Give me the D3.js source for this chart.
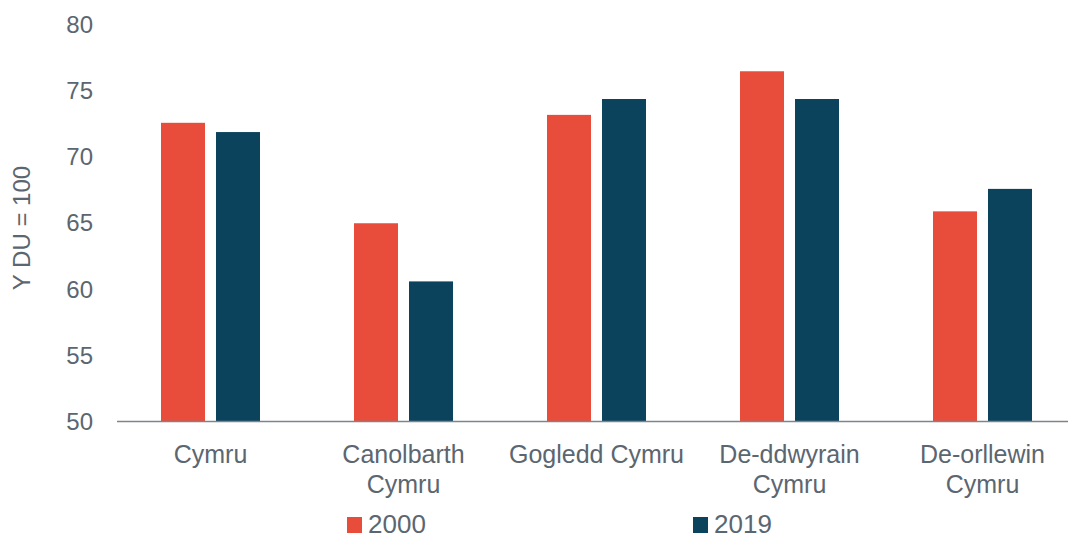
<!DOCTYPE html>
<html lang="cy">
<head>
    <meta charset="UTF-8">
    <title>Y DU = 100</title>
    <script src="https://d3js.org/d3.v7.min.js"></script>
    <style>
        body { margin: 0; background: #fff; }
        svg { display: block; font-family: "Liberation Sans", Arial, sans-serif; }
        .tick-label { fill: #5b6670; font-size: 24px; }
        .cat-label { fill: #5b6670; font-size: 25px; }
        .legend-label { fill: #5b6670; font-size: 26px; }
    </style>
</head>
<body>
    <svg width="1068" height="539"></svg>
    <script>
// data
const categories = [
    ['Cymru'],
    ['Canolbarth', 'Cymru'],
    ['Gogledd Cymru'],
    ['De-ddwyrain', 'Cymru'],
    ['De-orllewin', 'Cymru']
];
const seriesNames = ['2000', '2019'];
const values2000 = [72.6, 65.0, 73.2, 76.5, 65.9];
const values2019 = [71.9, 60.6, 74.4, 74.4, 67.6];
const yTicks = [50, 55, 60, 65, 70, 75, 80];
const yTitle = 'Y DU = 100';
const colors = ['#e84c3b', '#0b435d'];

const seriesValues = [values2000, values2019];
const catKeys = categories.map(c => c.join(' '));

const svg = d3.select('svg');

// plot area (runs past the right edge, like the original)
const x = d3.scaleBand()
    .domain(catKeys)
    .range([114, 1079])
    .padding(0);

const groupWidth = 99;
const x1 = d3.scaleBand()
    .domain(seriesNames)
    .range([x.bandwidth() / 2 - groupWidth / 2, x.bandwidth() / 2 + groupWidth / 2])
    .paddingInner(0.2);

const y = d3.scaleLinear()
    .domain([50, 80])
    .range([421.5, 25]);

// y tick labels
const yAxis = svg.append('g')
    .attr('class', 'y-axis')
    .attr('transform', 'translate(93,0)')
    .call(d3.axisLeft(y).tickValues(yTicks).tickSize(0).tickPadding(0));
yAxis.select('.domain').remove();
yAxis.selectAll('text')
    .attr('class', 'tick-label')
    .attr('font-size', null)
    .attr('font-family', null)
    .attr('fill', null);

// y title
svg.append('text')
    .attr('class', 'tick-label')
    .attr('transform', 'translate(30,228) rotate(-90)')
    .attr('text-anchor', 'middle')
    .text(yTitle);

// bars
const groups = svg.append('g')
    .selectAll('g')
    .data(catKeys)
    .join('g')
    .attr('transform', d => `translate(${x(d)},0)`);

groups.selectAll('rect')
    .data((d, i) => seriesNames.map((s, j) => ({ s, v: seriesValues[j][i], j })))
    .join('rect')
    .attr('x', d => x1(d.s))
    .attr('y', d => y(d.v))
    .attr('width', x1.bandwidth())
    .attr('height', d => y(50) - y(d.v))
    .attr('fill', d => colors[d.j]);

// x axis line
svg.append('line')
    .attr('x1', 117).attr('x2', 1068)
    .attr('y1', y(50)).attr('y2', y(50))
    .attr('stroke', '#7d858c')
    .attr('stroke-width', 1.6);

// category labels
const cat = svg.append('g')
    .selectAll('text')
    .data(categories)
    .join('text')
    .attr('class', 'cat-label')
    .attr('text-anchor', 'middle')
    .attr('x', (d, i) => x(catKeys[i]) + x.bandwidth() / 2)
    .attr('y', 463);
cat.selectAll('tspan')
    .data(d => d)
    .join('tspan')
    .attr('x', function () { return this.parentNode.getAttribute('x'); })
    .attr('dy', (d, i) => i === 0 ? 0 : 29.5)
    .text(d => d);

// legend
const legendX = [347, 693];
const legend = svg.append('g')
    .selectAll('g')
    .data(seriesNames)
    .join('g')
    .attr('transform', (d, i) => `translate(${legendX[i]},517)`);
legend.append('rect')
    .attr('width', 15)
    .attr('height', 16)
    .attr('fill', (d, i) => colors[i]);
legend.append('text')
    .attr('class', 'legend-label')
    .attr('x', 21)
    .attr('y', 16)
    .text(d => d);
    </script>
</body>
</html>
